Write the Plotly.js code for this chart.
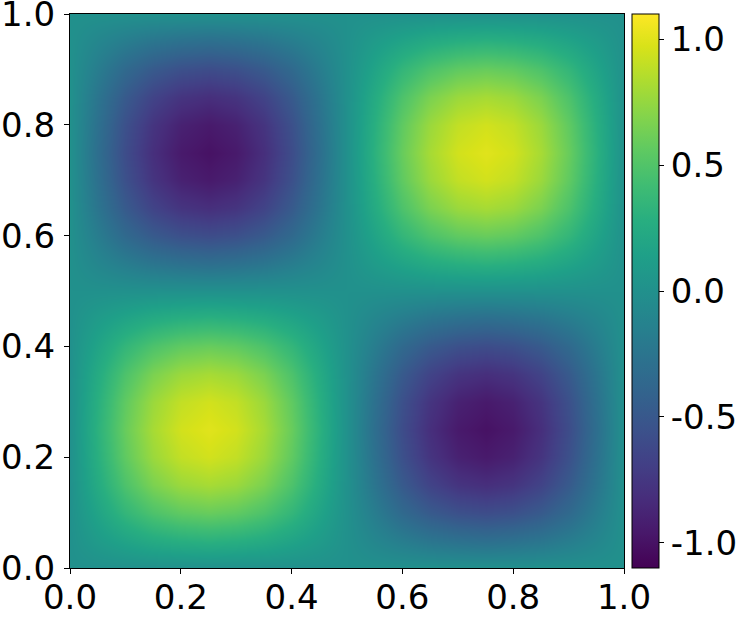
<!DOCTYPE html>
<html>
<head>
<meta charset="utf-8">
<script src="https://cdn.plot.ly/plotly-3.0.1.min.js"></script>
<style>html,body{margin:0;padding:0;background:#fff;}#chart{width:741px;height:617px;}</style>
</head>
<body>
<div id="chart"></div>
<script>
// Grid coordinates (step 0.05)
var xs = [0,0.05,0.1,0.15,0.2,0.25,0.3,0.35,0.4,0.45,0.5,0.55,0.6,0.65,0.7,0.75,0.8,0.85,0.9,0.95,1];
var ys = [0,0.05,0.1,0.15,0.2,0.25,0.3,0.35,0.4,0.45,0.5,0.55,0.6,0.65,0.7,0.75,0.8,0.85,0.9,0.95,1];
// Values, one row per y
var z = [
 [0,0,0,0,0,0,0,0,0,0,0,0,0,0,0,0,0,0,0,0,0],
 [0,0.10,0.18,0.25,0.29,0.31,0.29,0.25,0.18,0.10,0,-0.10,-0.18,-0.25,-0.29,-0.31,-0.29,-0.25,-0.18,-0.10,0],
 [0,0.18,0.35,0.48,0.56,0.59,0.56,0.48,0.35,0.18,0,-0.18,-0.35,-0.48,-0.56,-0.59,-0.56,-0.48,-0.35,-0.18,0],
 [0,0.25,0.48,0.66,0.77,0.81,0.77,0.66,0.48,0.25,0,-0.25,-0.48,-0.66,-0.77,-0.81,-0.77,-0.66,-0.48,-0.25,0],
 [0,0.29,0.56,0.77,0.90,0.95,0.90,0.77,0.56,0.29,0,-0.29,-0.56,-0.77,-0.90,-0.95,-0.90,-0.77,-0.56,-0.29,0],
 [0,0.31,0.59,0.81,0.95,1.00,0.95,0.81,0.59,0.31,0,-0.31,-0.59,-0.81,-0.95,-1.00,-0.95,-0.81,-0.59,-0.31,0],
 [0,0.29,0.56,0.77,0.90,0.95,0.90,0.77,0.56,0.29,0,-0.29,-0.56,-0.77,-0.90,-0.95,-0.90,-0.77,-0.56,-0.29,0],
 [0,0.25,0.48,0.66,0.77,0.81,0.77,0.66,0.48,0.25,0,-0.25,-0.48,-0.66,-0.77,-0.81,-0.77,-0.66,-0.48,-0.25,0],
 [0,0.18,0.35,0.48,0.56,0.59,0.56,0.48,0.35,0.18,0,-0.18,-0.35,-0.48,-0.56,-0.59,-0.56,-0.48,-0.35,-0.18,0],
 [0,0.10,0.18,0.25,0.29,0.31,0.29,0.25,0.18,0.10,0,-0.10,-0.18,-0.25,-0.29,-0.31,-0.29,-0.25,-0.18,-0.10,0],
 [0,0,0,0,0,0,0,0,0,0,0,0,0,0,0,0,0,0,0,0,0],
 [0,-0.10,-0.18,-0.25,-0.29,-0.31,-0.29,-0.25,-0.18,-0.10,0,0.10,0.18,0.25,0.29,0.31,0.29,0.25,0.18,0.10,0],
 [0,-0.18,-0.35,-0.48,-0.56,-0.59,-0.56,-0.48,-0.35,-0.18,0,0.18,0.35,0.48,0.56,0.59,0.56,0.48,0.35,0.18,0],
 [0,-0.25,-0.48,-0.66,-0.77,-0.81,-0.77,-0.66,-0.48,-0.25,0,0.25,0.48,0.66,0.77,0.81,0.77,0.66,0.48,0.25,0],
 [0,-0.29,-0.56,-0.77,-0.90,-0.95,-0.90,-0.77,-0.56,-0.29,0,0.29,0.56,0.77,0.90,0.95,0.90,0.77,0.56,0.29,0],
 [0,-0.31,-0.59,-0.81,-0.95,-1.00,-0.95,-0.81,-0.59,-0.31,0,0.31,0.59,0.81,0.95,1.00,0.95,0.81,0.59,0.31,0],
 [0,-0.29,-0.56,-0.77,-0.90,-0.95,-0.90,-0.77,-0.56,-0.29,0,0.29,0.56,0.77,0.90,0.95,0.90,0.77,0.56,0.29,0],
 [0,-0.25,-0.48,-0.66,-0.77,-0.81,-0.77,-0.66,-0.48,-0.25,0,0.25,0.48,0.66,0.77,0.81,0.77,0.66,0.48,0.25,0],
 [0,-0.18,-0.35,-0.48,-0.56,-0.59,-0.56,-0.48,-0.35,-0.18,0,0.18,0.35,0.48,0.56,0.59,0.56,0.48,0.35,0.18,0],
 [0,-0.10,-0.18,-0.25,-0.29,-0.31,-0.29,-0.25,-0.18,-0.10,0,0.10,0.18,0.25,0.29,0.31,0.29,0.25,0.18,0.10,0],
 [0,0,0,0,0,0,0,0,0,0,0,0,0,0,0,0,0,0,0,0,0]
];
var axisTicks = [0, 0.2, 0.4, 0.6, 0.8, 1.0];
var axisTickText = ['0.0', '0.2', '0.4', '0.6', '0.8', '1.0'];
var cbTicks = [-1.0, -0.5, 0.0, 0.5, 1.0];
var cbTickText = ['-1.0', '-0.5', '0.0', '0.5', '1.0'];
var zMin = -1.1, zMax = 1.1;

var font = {family: 'DejaVu Sans', size: 34, color: '#000'};

var trace = {
  type: 'heatmap',
  x: xs, y: ys, z: z,
  zsmooth: 'best',
  colorscale: 'Viridis',
  zmin: zMin, zmax: zMax,
  colorbar: {
    x: 1.0144, xanchor: 'left', xref: 'paper',
    y: 0, yanchor: 'bottom', len: 1, lenmode: 'fraction',
    thickness: 27, thicknessmode: 'pixels',
    xpad: 0, ypad: 0,
    outlinecolor: '#000', outlinewidth: 1,
    tickvals: cbTicks, ticktext: cbTickText,
    ticks: 'outside', ticklen: 5, tickcolor: '#000', tickwidth: 1,
    ticklabeloverflow: 'allow',
    tickfont: font
  }
};

var axisBase = {
  range: [0, 1],
  tickvals: axisTicks, ticktext: axisTickText,
  ticks: 'outside', ticklen: 5, tickcolor: '#000', tickwidth: 1,
  showline: true, mirror: true, linecolor: '#000', linewidth: 1,
  showgrid: false, zeroline: false,
  ticklabeloverflow: 'allow',
  tickfont: font
};

var layout = {
  width: 741, height: 617,
  margin: {l: 70, r: 117, t: 14, b: 49, pad: 0, autoexpand: false},
  paper_bgcolor: '#fff', plot_bgcolor: '#fff',
  font: font,
  xaxis: Object.assign({}, axisBase, {ticklabelstandoff: -6}),
  yaxis: Object.assign({}, axisBase, {ticklabelstandoff: 2})
};

Plotly.newPlot('chart', [trace], layout, {staticPlot: true, displayModeBar: false});
</script>
</body>
</html>
